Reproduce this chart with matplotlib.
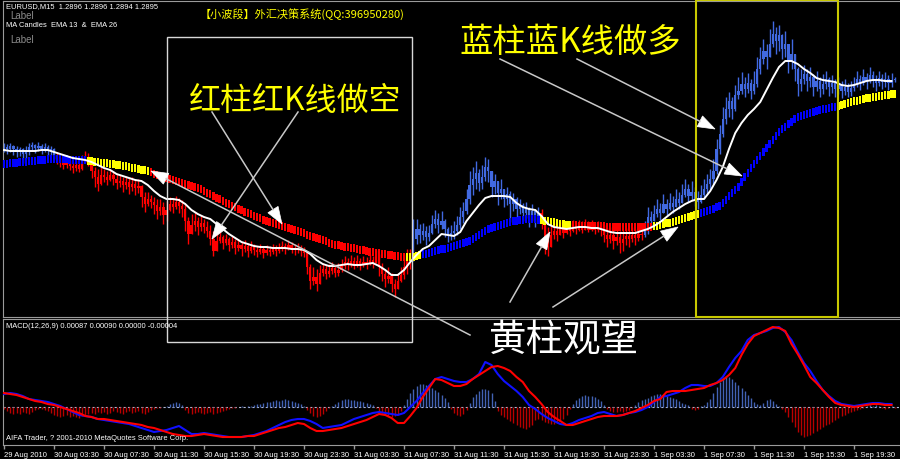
import numpy as np
import matplotlib
matplotlib.use('Agg')
import matplotlib.pyplot as plt
from matplotlib.patches import Rectangle, Polygon

plt.rcParams['font.family'] = ['Liberation Sans', 'Noto Sans CJK SC', 'DejaVu Sans']

# EURUSD M15, prices in pips above 1.2000, one value per bar
first_open = 826
close = [827, 825, 828, 825, 822, 825, 820, 823, 827, 829, 826, 828, 825, 827, 824, 825,
         819, 815, 811, 809, 811, 808, 806, 809, 805, 812, 817, 812, 803, 797, 790, 799,
         797, 794, 799, 795, 791, 793, 789, 792, 787, 790, 786, 788, 777, 770, 775, 772,
         769, 763, 767, 759, 764, 770, 767, 772, 768, 765, 753, 740, 749, 753, 747, 751,
         747, 743, 735, 723, 733, 737, 731, 735, 729, 732, 726, 729, 725, 728, 723, 727,
         724, 722, 725, 721, 724, 722, 725, 723, 726, 728, 725, 729, 726, 724, 726, 723,
         721, 707, 693, 697, 690, 701, 705, 700, 703, 706, 701, 704, 708, 712, 709, 713,
         710, 713, 709, 712, 710, 714, 711, 717, 707, 700, 695, 698, 690, 685, 693, 699,
         707, 717, 713, 735, 745, 739, 743, 737, 741, 750, 755, 749, 753, 745, 739, 741,
         743, 749, 757, 763, 775, 789, 795, 801, 791, 797, 807, 803, 787, 793, 781, 785,
         775, 780, 770, 775, 765, 769, 761, 765, 759, 763, 758, 761, 755, 735, 727, 739,
         743, 739, 745, 741, 746, 743, 747, 745, 748, 746, 749, 746, 748, 745, 747, 744,
         739, 735, 739, 733, 737, 731, 735, 738, 735, 739, 736, 740, 739, 745, 757, 753,
         760, 765, 761, 770, 765, 771, 767, 775, 771, 779, 785, 778, 782, 775, 772, 779,
         785, 790, 795, 803, 825, 840, 855, 865, 873, 865, 879, 883, 890, 885, 891, 883,
         890, 905, 915, 923, 917, 930, 940, 933, 939, 925, 930, 913, 920, 905, 890, 895,
         900, 893, 897, 887, 893, 885, 890, 895, 887, 891, 885, 889, 883, 887, 882, 886,
         890, 895, 891, 897, 893, 899, 895, 891, 896, 892, 895, 891, 894, 895]
high = [831, 830, 831, 829, 828, 827, 826, 828, 831, 832, 830, 832, 830, 831, 829, 828,
        826, 822, 817, 814, 815, 814, 812, 814, 812, 819, 823, 821, 814, 807, 805, 807,
        805, 803, 805, 803, 800, 799, 797, 798, 796, 797, 795, 795, 789, 782, 782, 779,
        777, 775, 775, 772, 773, 777, 776, 778, 776, 774, 770, 757, 760, 761, 757, 759,
        755, 753, 749, 743, 742, 743, 739, 740, 737, 738, 735, 735, 732, 734, 731, 733,
        730, 728, 730, 727, 729, 728, 730, 729, 731, 733, 731, 734, 732, 730, 731, 729,
        727, 721, 710, 707, 705, 709, 711, 709, 710, 712, 710, 711, 715, 718, 716, 719,
        717, 719, 716, 718, 717, 720, 718, 724, 720, 711, 705, 707, 701, 695, 701, 707,
        720, 725, 725, 755, 755, 750, 751, 748, 749, 759, 764, 761, 763, 755, 747, 749,
        753, 758, 767, 772, 785, 803, 807, 813, 805, 809, 817, 815, 803, 800, 792, 795,
        785, 787, 783, 781, 777, 775, 771, 772, 767, 770, 765, 767, 765, 755, 747, 749,
        751, 749, 753, 750, 753, 751, 754, 752, 754, 753, 755, 753, 754, 752, 753, 751,
        749, 746, 747, 745, 746, 743, 744, 746, 744, 747, 745, 748, 747, 753, 767, 763,
        769, 775, 771, 780, 775, 781, 778, 785, 782, 790, 795, 790, 793, 787, 783, 789,
        795, 800, 805, 815, 835, 849, 867, 877, 882, 877, 889, 897, 902, 897, 901, 895,
        903, 917, 927, 935, 930, 945, 953, 947, 949, 940, 943, 930, 935, 920, 907, 905,
        909, 905, 907, 900, 903, 897, 900, 903, 897, 899, 895, 897, 893, 895, 891, 893,
        897, 903, 899, 905, 901, 907, 903, 899, 903, 900, 902, 899, 901, 897]
low = [822, 820, 822, 819, 817, 818, 811, 815, 819, 823, 821, 823, 820, 822, 818, 819,
       815, 810, 807, 805, 806, 804, 801, 803, 802, 804, 811, 808, 796, 787, 783, 789,
       792, 789, 793, 789, 785, 787, 782, 785, 780, 783, 779, 781, 767, 762, 768, 766,
       760, 755, 759, 750, 753, 763, 761, 765, 761, 757, 743, 730, 740, 743, 739, 743,
       741, 737, 729, 718, 725, 731, 725, 729, 723, 726, 720, 723, 718, 722, 717, 721,
       719, 717, 720, 716, 719, 718, 720, 718, 721, 723, 720, 724, 721, 719, 721, 718,
       717, 700, 685, 689, 683, 693, 698, 695, 697, 700, 697, 698, 702, 705, 704, 707,
       705, 707, 704, 707, 705, 709, 706, 711, 698, 693, 687, 691, 682, 677, 685, 692,
       695, 700, 705, 713, 730, 731, 734, 729, 733, 740, 746, 741, 745, 737, 732, 734,
       735, 739, 745, 751, 760, 770, 779, 785, 783, 785, 793, 792, 777, 780, 769, 775,
       767, 769, 752, 763, 755, 760, 753, 756, 747, 753, 747, 751, 745, 720, 718, 727,
       735, 733, 739, 736, 740, 738, 742, 740, 743, 741, 744, 742, 743, 740, 742, 738,
       732, 727, 731, 725, 729, 721, 723, 729, 727, 732, 729, 733, 734, 737, 740, 745,
       753, 757, 754, 762, 759, 764, 761, 768, 765, 772, 777, 772, 774, 768, 765, 771,
       775, 780, 785, 790, 800, 820, 837, 850, 857, 855, 863, 875, 880, 877, 881, 875,
       880, 887, 900, 910, 905, 917, 927, 920, 923, 915, 917, 901, 905, 893, 878, 883,
       890, 883, 887, 878, 883, 877, 880, 885, 878, 881, 877, 880, 876, 879, 877, 878,
       883, 887, 884, 889, 885, 891, 887, 883, 888, 885, 887, 884, 887, 892]
candle_runs = [('blue', 17), ('red', 114), ('blue', 41), ('red', 33), ('blue', 81)]

# EMA 26 (thick coloured line), one value per bar
ema_slow = [810, 810, 811, 811, 811, 812, 812, 812, 813, 813, 813, 814, 814, 814, 815,
            815, 815, 815, 815, 815, 815, 814, 814, 814, 814, 814,
            814, 813, 813, 812, 812, 811, 811, 811, 810, 810, 809, 809,
            808, 808, 807, 806, 806, 805, 804, 804, 803,
            802, 800, 799, 798, 797, 796,
            795, 794, 793, 792, 791, 790, 789, 788, 787, 786, 785,
            783, 781, 780, 778, 776, 775, 773, 771, 770, 768,
            767, 765, 764, 762, 761, 760, 758, 757, 756, 754, 753,
            752, 751, 750, 749, 748, 747, 746, 745, 744, 743, 742,
            741, 739, 738, 737, 736, 735, 734, 733, 731, 730,
            729, 729, 728, 727, 727, 726, 726, 725, 724, 724, 723,
            722, 722, 721, 721, 720, 720, 719, 719, 718, 718, 717,
            717, 717, 717, 717,
            718, 719, 720, 720, 721, 722,
            723, 724, 725, 725, 726, 727,
            728, 729, 730, 731, 732, 733,
            735, 737, 739, 741, 743, 745,
            746, 747, 748, 749, 750, 751, 752,
            753, 753, 754, 754, 755, 755,
            755, 755, 754, 754,
            753, 753, 752, 752, 751, 750, 750, 749,
            749, 749, 749, 748, 748, 748, 748, 748, 748, 748,
            748, 748, 747, 747, 747, 747, 747, 747, 747, 747, 747, 747, 747, 747,
            747, 747, 747, 748, 748,
            749, 750, 751, 751, 752, 753,
            754, 755, 756, 757, 758, 759, 760,
            761, 762, 763, 764, 765, 767, 768,
            771, 774, 778, 781, 784, 787,
            792, 797, 801, 806, 810, 814, 818,
            822, 826, 830, 834, 838, 842,
            845, 847, 850, 852, 855, 857,
            858, 859, 860, 861, 862, 863, 864,
            865, 865, 866, 867, 867, 868,
            869, 870, 871, 872, 873, 873, 874, 875, 876, 876, 877,
            877, 878, 878, 879, 879, 880, 880]
ema_slow_runs = [('blue', 27), ('yellow', 20), ('red', 82), ('yellow', 5), ('blue', 38),
                 ('yellow', 10), ('red', 26), ('yellow', 15), ('blue', 44), ('yellow', 19)]

# EMA 13 (white line), read every second bar
ema_fast = [824, 823, 823, 823, 823, 823, 824, 824, 822, 820,
            818, 816, 815, 814, 812, 809, 806, 804, 800, 798,
            796, 794, 793, 789, 783, 778, 775, 775, 774, 770,
            764, 760, 757, 755, 750, 745, 740, 736, 732, 730,
            728, 727, 727, 726, 726, 726, 725, 725, 724, 720,
            714, 710, 708, 708, 709, 710, 709, 709, 710, 711,
            708, 704, 699, 699, 704, 712, 719, 725, 728, 734,
            740, 739, 738, 742, 753, 761, 769, 776, 778, 778,
            778, 777, 771, 767, 765, 764, 758, 750, 747, 746,
            745, 746, 747, 747, 746, 746, 744, 742, 741, 741,
            741, 741, 743, 745, 748, 752, 757, 762, 766, 770,
            773, 775, 775, 783, 794, 807, 825, 841, 851, 859,
            865, 872, 884, 896, 907, 913, 913, 910, 905, 901,
            896, 894, 893, 892, 889, 888, 889, 891, 893, 894,
            894, 893, 893]

# MACD(12,26,9) panel, units of 0.00001; lines read every second bar
macd_main = [13, 14, 13, 11, 8, 7, 6, 5, 3, 1,
             -2, -5, -8, -9, -10, -12, -13, -14, -15, -16,
             -17, -19, -21, -23, -25, -24, -23, -21, -19, -23,
             -27, -27, -26, -27, -28, -29, -30, -30, -30, -29,
             -28, -26, -24, -21, -18, -15, -13, -12, -12, -14,
             -17, -21, -20, -19, -18, -15, -12, -10, -8, -6,
             -5, -6, -7, -8, -6, 0, 6, 14, 21, 28,
             30, 28, 26, 25, 25, 28, 33, 45, 42, 33,
             26, 21, 16, 10, 2, -2, -7, -11, -14, -17,
             -18, -16, -13, -11, -9, -6, -5, -7, -9, -8,
             -6, -5, -3, 0, 5, 10, 11, 13, 15, 19,
             22, 22, 21, 21, 24, 30, 40, 49, 56, 67,
             72, 74, 76, 79, 80, 75, 67, 55, 44, 36,
             26, 17, 11, 6, 3, 2, 1, 2, 3, 4,
             4, 3, 3]
macd_signal = [14, 13, 12, 10, 8, 6, 5, 3, 2, 0,
               -2, -4, -6, -9, -10, -12, -12, -13, -14, -15,
               -16, -17, -18, -20, -21, -23, -25, -27, -28, -29,
               -29, -28, -27, -28, -29, -30, -30, -30, -30, -29,
               -29, -27, -25, -23, -21, -20, -18, -16, -17, -21,
               -24, -24, -23, -22, -21, -19, -17, -15, -13, -10,
               -7, -8, -11, -16, -16, -9, -1, 10, 19, 28,
               27, 24, 21, 21, 23, 28, 32, 36, 40, 41,
               39, 36, 30, 25, 16, 10, 3, -5, -10, -14,
               -18, -18, -16, -14, -12, -10, -9, -9, -9, -8,
               -6, -4, -1, 2, 6, 8, 15, 16, 16, 16,
               17, 18, 19, 22, 24, 27, 32, 39, 52, 63,
               71, 74, 77, 80, 79, 76, 63, 53, 42, 30,
               24, 17, 10, 4, 2, 1, 0, 1, 2, 3,
               3, 2, 2]
macd_hist = [-2, -4, -6, -7, -6, -7, -5, -6, -7, -5, -3, -2, -2, -3, -4, -6,
             -8, -9, -10, -9, -8, -10, -9, -10, -11, -9, -8, -7, -6, -7, -5, -6,
             -5, -7, -6, -4, -5, -6, -7, -5, -4, -6, -5, -4, -6, -7, -5, -3,
             -2, -1, -1, 0, 1, 3, 4, 5, 4, 2, -3, -6, -7, -6, -5, -6,
             -7, -6, -5, -7, -6, -5, -4, -3, -2, -1, -1, 0, 1, 0, 1, 1,
             2, 3, 3, 4, 5, 5, 6, 7, 6, 7, 8, 7, 6, 5, 4, 3,
             1, -3, -6, -9, -10, -9, -7, -4, -1, 1, 3, 5, 7, 8, 8, 7,
             7, 6, 6, 5, 4, 3, 2, -1, -4, -6, -8, -9, -10, -9, -8, -4,
             2, 8, 14, 18, 21, 23, 23, 22, 20, 19, 17, 15, 12, 9, 5, -2,
             -6, -8, -9, -7, -3, 4, 10, 13, 16, 18, 18, 17, 14, 6, -4, -8,
             -10, -12, -14, -16, -18, -20, -21, -22, -20, -18, -13, -12, -13, -15, -16, -17,
             -17, -16, -14, -12, -8, -2, 3, 7, 9, 11, 12, 11, 11, 10, 8, 6,
             2, -2, -4, -5, -5, -4, -5, -4, -3, -1, 2, 5, 7, 8, 9, 11,
             12, 13, 13, 12, 11, 10, 9, 8, 6, 4, 3, 2, -2, -3, -2, 1,
             2, 5, 8, 14, 20, 25, 29, 31, 30, 28, 25, 22, 19, 16, 12, 9,
             5, 3, 2, 4, 7, 8, 6, 3, 1, -2, -5, -10, -15, -20, -25, -28,
             -30, -29, -28, -26, -24, -22, -20, -18, -17, -15, -13, -11, -9, -8, -6, -5,
             -4, -3, -2, -1, 1, 2, 1, 2, 1, -1, -2, -1, 1, -1]

time_labels = ['29 Aug 2010', '30 Aug 03:30', '30 Aug 07:30', '30 Aug 11:30', '30 Aug 15:30',
               '30 Aug 19:30', '30 Aug 23:30', '31 Aug 03:30', '31 Aug 07:30', '31 Aug 11:30',
               '31 Aug 15:30', '31 Aug 19:30', '31 Aug 23:30', '1 Sep 03:30', '1 Sep 07:30',
               '1 Sep 11:30', '1 Sep 15:30', '1 Sep 19:30']
bars_per_label = 16

palette = {'blue': '#4169e1', 'red': '#ff0000'}
thick_palette = {'blue': '#0000ff', 'yellow': '#ffff00', 'red': '#ff0000'}
grey = '#9a9a9a'

W, H = 900, 460
fig = plt.figure(figsize=(9, 4.6), dpi=100, facecolor='black')


def box(x0, y0, x1, y1):
    return [x0 / W, 1 - y1 / H, (x1 - x0) / W, (y1 - y0) / H]


def runs_to_colors(runs, pal):
    return np.repeat([pal[c] for c, _ in runs], [n for _, n in runs])


xlim = (-0.32, 286.4)

# ---- price panel ----
ax = fig.add_axes(box(3, 2, 899, 318))
ax.set_facecolor('black')
ax.set_xlim(*xlim)
ax.set_ylim(1.2657, 1.2973)
ax.set_xticks([])
ax.set_yticks([])
for side in ['top', 'left', 'bottom']:
    ax.spines[side].set_color(grey)
ax.spines['right'].set_visible(False)

c = 1.2 + np.array(close) / 1e4
o = np.r_[1.2 + first_open / 1e4, c[:-1]]
hi = np.maximum(1.2 + np.array(high) / 1e4, np.maximum(o, c))
lo = np.minimum(1.2 + np.array(low) / 1e4, np.minimum(o, c))
xc = np.arange(len(c))
ccol = runs_to_colors(candle_runs, palette)[:len(c)]
ax.vlines(xc, lo, hi, colors=ccol, lw=1, zorder=2)
ax.bar(xc, np.maximum(np.abs(c - o), 0.0001), bottom=np.minimum(o, c),
       width=0.72, color=ccol, linewidth=0, zorder=2)

s = 1.2 + np.array(ema_slow) / 1e4
xs = np.arange(len(s))
scol = runs_to_colors(ema_slow_runs, thick_palette)[:len(s)]
ax.bar(xs, 0.00075, bottom=s - 0.000375, width=0.78, color=scol, linewidth=0, zorder=3)

f = 1.2 + np.array(ema_fast) / 1e4
ax.plot(np.arange(len(f)) * 2, f, color='white', lw=1.4, zorder=4)

# ---- MACD panel ----
mx = fig.add_axes(box(3, 320, 899, 446))
mx.set_facecolor('black')
mx.set_xlim(*xlim)
mx.set_ylim(-0.00038, 0.00088)
mx.set_yticks([])
for side in ['top', 'left', 'bottom']:
    mx.spines[side].set_color(grey)
mx.spines['right'].set_visible(False)

h = np.array(macd_hist) / 1e5
mx.vlines(np.arange(len(h)), 0, h, colors=np.where(h > 0, '#4262b4', '#b80000'), lw=1, zorder=2)
mx.axhline(0, color='#b4bcd8', lw=0.8, ls=(0, (2, 2)), zorder=1)
xm = np.arange(len(macd_main)) * 2
mx.plot(xm, np.array(macd_main) / 1e5, color='#1010ff', lw=1.5, zorder=3)
mx.plot(np.arange(len(macd_signal)) * 2, np.array(macd_signal) / 1e5, color='#ff0000', lw=1.5, zorder=3)

mx.set_xticks(np.arange(len(time_labels)) * bars_per_label)
mx.set_xticklabels(time_labels)
mx.tick_params(axis='x', colors=grey, length=3, width=1, labelcolor='white',
               labelsize=5.5, pad=1.5)
for lab in mx.get_xticklabels():
    lab.set_ha('left')

# ---- annotation layer ----
ov = fig.add_axes([0, 0, 1, 1])
ov.set_xlim(0, W)
ov.set_ylim(H, 0)
ov.axis('off')
ov.patch.set_alpha(0)

small = dict(color='white', fontsize=5.4, va='center')
ov.text(6, 7, 'EURUSD,M15  1.2896 1.2896 1.2894 1.2895', **small)
ov.text(6, 25.5, 'MA Candles  EMA 13  &  EMA 26', **small)
ov.text(10, 16, 'Label', color='#8c8c8c', fontsize=7, va='center')
ov.text(10, 40, 'Label', color='#8c8c8c', fontsize=7, va='center')
ov.text(6, 327, 'MACD(12,26,9) 0.00087 0.00090 0.00000 -0.00004', **small)
ov.text(6, 439, 'AIFA Trader, ? 2001-2010 MetaQuotes Software Corp.', **small)
ov.text(200, 14, '【小波段】外汇决策系统(QQ:396950280)', color='#ffff00', fontsize=8,
        va='center', family=['Noto Sans CJK SC', 'DejaVu Sans'])

cjk = ['Noto Sans CJK SC', 'DejaVu Sans']
ov.text(295, 101, '红柱红K线做空', color='#ffff00', fontsize=23, ha='center', va='center', family=cjk)
ov.text(570, 42, '蓝柱蓝K线做多', color='#ffff00', fontsize=24, ha='center', va='center', family=cjk)
ov.text(564, 341, '黄柱观望', color='white', fontsize=27, ha='center', va='center', family=cjk)

ov.add_patch(Rectangle((167, 38), 245, 305, fill=False, ec='#d8d8d8', lw=1))
ov.add_patch(Rectangle((696, 1), 142, 317, fill=False, ec='#c8c800', lw=1.5))


def arrow(start, tip, head=17, half=6):
    p0, p1 = np.array(start, float), np.array(tip, float)
    d = (p1 - p0) / np.hypot(*(p1 - p0))
    n = np.array([-d[1], d[0]])
    base = p1 - d * head
    ov.plot([p0[0], base[0]], [p0[1], base[1]], color='#c8c8c8', lw=1.1)
    ov.add_patch(Polygon([p1, base + n * half, base - n * half], closed=True,
                         fc='white', ec='white', lw=0.5))


arrows = [((212, 113), (282, 225)), ((298, 113), (212, 240)), ((470, 336), (151, 172)),
          ((510, 303), (550, 233)), ((553, 308), (678, 228)),
          ((500, 60), (742, 177)), ((577, 60), (715, 130))]
for a, b in arrows:
    arrow(a, b)

fig.savefig('out.png', dpi=100, facecolor='black')
